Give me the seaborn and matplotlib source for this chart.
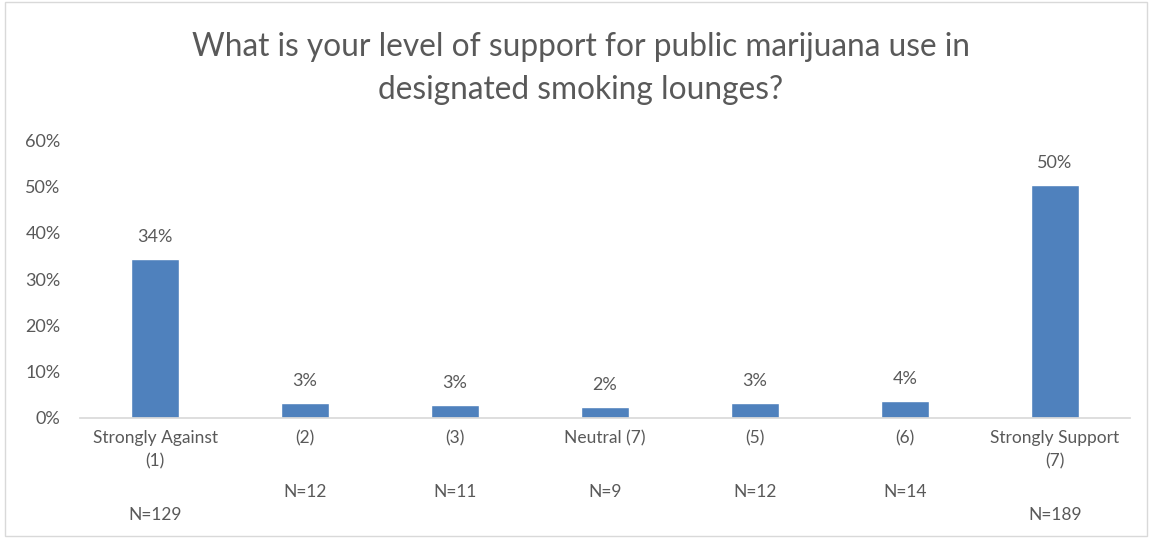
import pandas as pd
import matplotlib.pyplot as plt
import seaborn as sns
from matplotlib.patches import Rectangle
from matplotlib.ticker import PercentFormatter

categories = ["Strongly Against\n(1)", "(2)", "(3)", "Neutral (7)", "(5)", "(6)", "Strongly Support\n(7)"]
shares = [0.343, 0.032, 0.029, 0.024, 0.032, 0.037, 0.503]
pct_labels = ["34%", "3%", "3%", "2%", "3%", "4%", "50%"]
n_labels = ["N=129", "N=12", "N=11", "N=9", "N=12", "N=14", "N=189"]

df = pd.DataFrame({"cat": categories, "share": shares})

sns.set_theme(style="white")
plt.rcParams["font.family"] = ["Lato", "DejaVu Sans"]
grey = "#595959"

fig = plt.figure(figsize=(11.5, 5.39), dpi=100)
ax = fig.add_axes([0.0696, 0.2245, 0.913, 0.5155])

sns.barplot(ax=ax, data=df, x="cat", y="share", color="#4F81BD", width=0.32, saturation=1)

ax.set_ylim(0, 0.6)
ax.set_yticks([0, 0.1, 0.2, 0.3, 0.4, 0.5, 0.6])
ax.yaxis.set_major_formatter(PercentFormatter(1.0, decimals=0))
ax.set_xlabel("")
ax.set_ylabel("")
for s in ["top", "left", "right"]:
    ax.spines[s].set_visible(False)
ax.spines["bottom"].set_color("#d9d9d9")
ax.tick_params(axis="y", colors=grey, labelsize=13, length=0, pad=14)
ax.tick_params(axis="x", colors=grey, labelsize=12.5, length=0, pad=9)
for t in ax.get_xticklabels():
    t.set_linespacing(1.55)

for i, (v, lab) in enumerate(zip(shares, pct_labels)):
    ax.annotate(lab, (i, v), xytext=(0, 10), textcoords="offset points",
                ha="center", va="bottom", fontsize=13, color=grey)

for i, (cat, n) in enumerate(zip(categories, n_labels)):
    off = -70 if "\n" in cat else -53
    ax.annotate(n, (i, 0), xytext=(0, off), textcoords="offset points",
                ha="center", va="center", fontsize=12.5, color=grey, annotation_clip=False)

fig.text(0.505, 0.873, "What is your level of support for public marijuana use in\ndesignated smoking lounges?",
         ha="center", va="center", fontsize=22.8, color=grey, linespacing=1.55)

fig.patches.append(Rectangle((0.004, 0.006), 0.993, 0.99, transform=fig.transFigure,
                             fill=False, edgecolor="#d9d9d9", linewidth=1))

fig.savefig("out.png", dpi=100)
